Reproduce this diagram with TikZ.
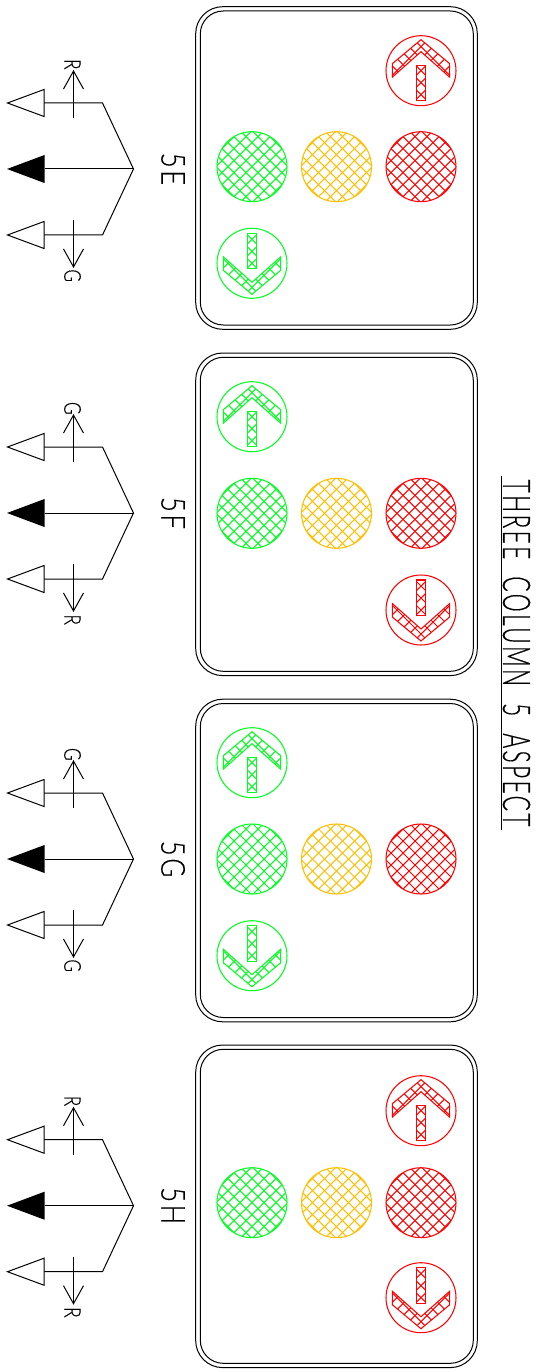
\documentclass[tikz,border=0pt]{standalone}
\usepackage{fontspec}
\newfontfamily\cadfont[LetterSpace=10, FakeBold=0.4, WordSpace=2]{Lato Light}
\usetikzlibrary{arrows.meta}
\definecolor{lampgreen}{RGB}{0,255,30}
\definecolor{lampamber}{RGB}{255,190,0}
\definecolor{lampred}{RGB}{255,0,0}
\tikzset{
    hatchline/.style={line width=1.05pt},
    wire/.style={line width=1pt, black},
    head/.style={wire, fill=white, line join=miter},
    cadtext/.style={inner sep=0pt, rotate=-90, font=\cadfont},
}
% hatching round the origin of the current scope
\newcommand{\hatchlines}[1]{
    \foreach \d in {-6,...,6} {
        \draw[hatchline, #1] (\d*12-50, -50) -- (\d*12+50, 50);
        \draw[hatchline, #1] (\d*12-50, 50) -- (\d*12+50, -50);
    }
}
% x, y, colour
\newcommand{\fulllamp}[3]{
    \begin{scope}[shift={(#1, #2)}]
        \begin{scope}
            \clip (0, 0) circle (35);
            \hatchlines{#3}
        \end{scope}
        \draw[hatchline, #3] (0, 0) circle (35);
    \end{scope}
}
% x, y, colour, direction (1 for the tip upwards, -1 downwards)
\newcommand{\arrowlamp}[4]{
    \begin{scope}[shift={(#1, #2)}, yscale=#4]
        \draw[hatchline, #3] (0, 0) circle (35);
        \begin{scope}
            \clip (0, -31) -- (28.7, -7) -- (28.7, 6.5) -- (0, -19) -- (-28.7, 6.5) -- (-28.7, -7) -- cycle;
            \hatchlines{#3}
        \end{scope}
        \draw[hatchline, #3] (0, -31) -- (28.7, -7) -- (28.7, 6.5) -- (0, -19) -- (-28.7, 6.5) -- (-28.7, -7) -- cycle;
        \begin{scope}
            \clip (-4.8, -5.5) rectangle (4.8, 30);
            \hatchlines{#3}
        \end{scope}
        \draw[hatchline, #3] (-4.8, -5.5) rectangle (4.8, 30);
    \end{scope}
}
\begin{document}
\begin{tikzpicture}[x=1pt, y=-1pt]
    \useasboundingbox (0, 0) rectangle (541, 1372);
    % panel centre / lamps / top lamp / bottom lamp / signal / name / top x, colour, label / bottom x, colour, label
    \foreach \p/\y/\u/\v/\s/\name/\ux/\uc/\ul/\dx/\dc/\dl in {
        168/166.7/70.7/263.3/169/5E/421/lampred/R/252/lampgreen/G,
        514.3/513.3/416.7/610/513/5F/252/lampgreen/G/421/lampred/R,
        860.5/859/762.7/955.7/859/5G/252/lampgreen/G/252/lampgreen/G,
        1206.3/1202.7/1110.7/1297.7/1205.7/5H/421/lampred/R/421/lampred/R} {
        \draw[wire, rounded corners=27] (195.7, \p-161.3) rectangle (477.3, \p+161.3);
        \draw[wire, rounded corners=23] (200.3, \p-157) rectangle (473.3, \p+157);
        \fulllamp{252}{\y}{lampgreen}
        \fulllamp{336.5}{\y}{lampamber}
        \fulllamp{421}{\y}{lampred}
        \arrowlamp{\ux}{\u}{\uc}{1}
        \arrowlamp{\dx}{\v}{\dc}{-1}
        \node[cadtext, font=\cadfont\fontsize{33}{33}\selectfont] (name\name) at (173, \s) {\scalebox{0.78}[1]{\name}};
        % signal post
        \coordinate (fork\name) at (133.5, \s);
        \coordinate (bendu\name) at (102.5, \s-66);
        \coordinate (bendd\name) at (102.5, \s+66);
        \coordinate (sigu\name) at (44, \s-66);
        \coordinate (sigm\name) at (44.5, \s);
        \coordinate (sigd\name) at (44, \s+66);
        \draw[wire] (fork\name) -- (sigm\name);
        \draw[wire] (sigu\name) -- (bendu\name) -- (fork\name) -- (bendd\name) -- (sigd\name);
        \draw[head] (sigu\name) -- ++(0, -13.5) -- ++(-36.5, 13.5) -- ++(36.5, 13.5) -- cycle;
        \draw[head] (sigd\name) -- ++(0, -13.5) -- ++(-36.5, 13.5) -- ++(36.5, 13.5) -- cycle;
        \fill[black] (sigm\name) -- ++(0, -14) -- ++(-37.5, 14) -- ++(37.5, 14) -- cycle;
        % route arrows
        \coordinate (routeu\name) at (73.5, \s-51);
        \coordinate (tipu\name) at (73.5, \s-99);
        \coordinate (routed\name) at (73.5, \s+51);
        \coordinate (tipd\name) at (73.5, \s+99);
        \draw[wire, -{Straight Barb[length=18pt, width=20pt]}] (routeu\name) -- (tipu\name);
        \draw[wire, -{Straight Barb[length=18pt, width=20pt]}] (routed\name) -- (tipd\name);
        \node[cadtext, font=\cadfont\fontsize{23}{23}\selectfont] (labu\name) at (72.5, \s-104.7) {\scalebox{0.75}[1]{\ul}};
        \node[cadtext, font=\cadfont\fontsize{23}{23}\selectfont] (labd\name) at (72.5, \s+106.7) {\scalebox{0.75}[1]{\dl}};
    }
    \node[cadtext, font=\cadfont\fontsize{38}{38}\selectfont] (title) at (516.5, 653) {\scalebox{0.6}[1]{THREE COLUMN 5 ASPECT}};
    \coordinate (ruleu) at (501.5, 476);
    \coordinate (ruled) at (501.5, 830);
    \draw[wire] (ruleu) -- (ruled);
\end{tikzpicture}
\end{document}
